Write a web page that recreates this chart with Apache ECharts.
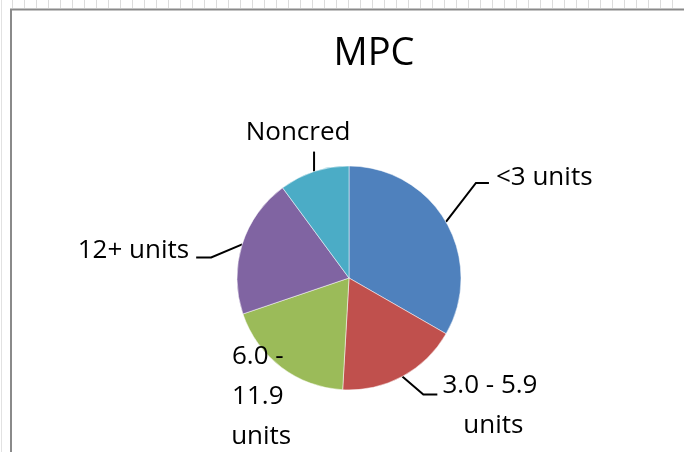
<!DOCTYPE html>
<html>
<head>
<meta charset="utf-8">
<script src="https://cdn.jsdelivr.net/npm/echarts@6/dist/echarts.min.js"></script>
<style>
  html, body { margin: 0; padding: 0; background: #fff; }
  #chart { width: 684px; height: 452px; }
</style>
</head>
<body>
<div id="chart"></div>
<script>
var categories = ["<3 units", "3.0 - 5.9 units", "6.0 - 11.9 units", "12+ units", "Noncred"];
var shares = [33.3, 17.6, 18.9, 20.1, 10.1];
var colors = ["#4f81bd", "#c0504d", "#9bbb59", "#8064a2", "#4bacc6"];

// where each label sits, as offsets from the point on the pie edge
var labelPlace = [
  { dx: 50, dy: -44, align: "left", bends: [[30, -39], [43, -39]] },
  { dx: 91, dy: 29, align: "center", bends: [[21, 18], [35, 18]] },
  { dx: -20, dy: 29, align: "center", bends: [[0, 0], [0, 0]] },
  { dx: -53, dy: 6, align: "right", bends: [[-31, 13], [-46, 13]] },
  { dx: -16, dy: -39, align: "center", bends: [[0, -20], [0, -20]] }
];
var wrapWidth = [null, 130, 70, null, null];

function buildData() {
  var arr = [];
  for (var i = 0; i < categories.length; i++) {
    var item = {
      name: categories[i],
      value: shares[i],
      itemStyle: { color: colors[i] }
    };
    if (wrapWidth[i]) {
      item.label = { width: wrapWidth[i], overflow: "break" };
    }
    if (i == 2) {
      item.labelLine = { lineStyle: { opacity: 0 } }; //no leader line on this one
    }
    arr.push(item);
  }
  return arr;
}

function placeLabel(params) {
  var p = labelPlace[params.dataIndex];
  var p0 = params.labelLinePoints[0];
  var pts = [[p0[0], p0[1]]];
  p.bends.forEach(function (b) {
    pts.push([p0[0] + b[0], p0[1] + b[1]]);
  });
  return {
    x: p0[0] + p.dx,
    y: p0[1] + p.dy,
    align: p.align,
    verticalAlign: "middle",
    labelLinePoints: pts
  };
}

// sheet gridline stubs above the chart box
function sheetLines() {
  var els = [];
  for (var x = 12; x < 684; x += 12) {
    els.push({
      type: "line",
      shape: { x1: x + 0.5, y1: 0, x2: x + 0.5, y2: 8 },
      style: { stroke: "#dcdcdc", lineWidth: 1 }
    });
  }
  els.push({
    type: "line",
    shape: { x1: 1.5, y1: 0, x2: 1.5, y2: 452 },
    style: { stroke: "#e2e2e2", lineWidth: 1 }
  });
  els.push({
    type: "rect",
    shape: { x: 11, y: 9.5, width: 800, height: 800 },
    style: { fill: "#fff", stroke: "#8a8a8a", lineWidth: 2 }
  });
  return els;
}

var dom = document.getElementById("chart");
var myChart = echarts.init(dom);
var option = {
  animation: false,
  graphic: { elements: sheetLines() },
  title: {
    text: "MPC",
    left: 369,
    top: 30,
    textAlign: "center",
    textStyle: {
      fontFamily: "Open Sans",
      fontSize: 38,
      fontWeight: "normal",
      color: "#000"
    }
  },
  series: [
    {
      type: "pie",
      center: [349, 278],
      radius: 112,
      startAngle: 90,
      clockwise: true,
      avoidLabelOverlap: false,
      data: buildData(),
      itemStyle: { borderColor: "#fff", borderWidth: 0.5 },
      label: {
        position: "outside",
        fontFamily: "Open Sans",
        fontSize: 26,
        lineHeight: 40,
        color: "#000"
      },
      labelLine: {
        show: true,
        smooth: false,
        lineStyle: { color: "#000", width: 2 }
      },
      labelLayout: placeLabel,
      emphasis: { disabled: true }
    }
  ]
};
myChart.setOption(option);
</script>
</body>
</html>
